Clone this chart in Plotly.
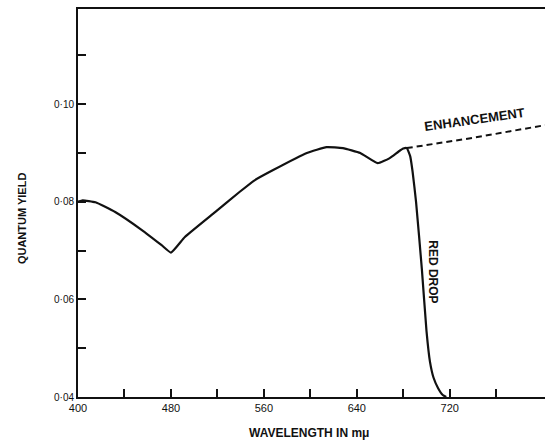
import plotly.graph_objects as go

# Main quantum-yield curve (wavelength in m-micron)
wavelength = [400, 404, 415, 432, 455, 472, 480, 492, 518, 539, 552, 568, 597, 614,
              628, 643, 658, 668, 676, 680, 683, 686, 688, 691, 696, 700, 703, 706,
              710, 714, 717]
quantum_yield = [0.0800, 0.0803, 0.0799, 0.0779, 0.0742, 0.0711, 0.0696, 0.0728,
                 0.0779, 0.0820, 0.0844, 0.0865, 0.0900, 0.0912, 0.0910, 0.0900,
                 0.0879, 0.0889, 0.0903, 0.0909, 0.0910, 0.0893, 0.0862, 0.0800,
                 0.0662, 0.0535, 0.0472, 0.0440, 0.0418, 0.0404, 0.0400]

# Enhancement (dashed) branch
enh_wavelength = [683, 740, 802]
enh_yield = [0.0910, 0.0931, 0.0957]

# Ticks
x_tickvals = [400, 440, 480, 520, 560, 600, 640, 680, 720, 760]
x_ticktext = ["400", "", "480", "", "560", "", "640", "", "720", ""]
y_tickvals = [0.04, 0.05, 0.06, 0.07, 0.08, 0.09, 0.10, 0.11]
y_ticktext = ["0·04", "", "0·06", "", "0·08", "", "0·10", ""]

FONT = "Liberation Sans, Arial, sans-serif"

fig = go.Figure()
fig.add_trace(go.Scatter(x=wavelength, y=quantum_yield, mode="lines",
                         line=dict(color="#111111", width=2.2, shape="spline", smoothing=0.4),
                         hoverinfo="skip", showlegend=False))
fig.add_trace(go.Scatter(x=enh_wavelength, y=enh_yield, mode="lines",
                         line=dict(color="#111111", width=2, dash="6px,4px"),
                         hoverinfo="skip", showlegend=False))

fig.update_layout(
    width=545, height=446,
    margin=dict(l=78, r=0, t=9, b=49),
    paper_bgcolor="white", plot_bgcolor="white",
    font=dict(family=FONT, color="#111111"),
    xaxis=dict(range=[400, 802], showgrid=False, zeroline=False,
               showline=True, linecolor="#111111", linewidth=2, mirror=True,
               ticks="inside", ticklen=8, tickwidth=1.5, tickcolor="#111111",
               tickmode="array", tickvals=x_tickvals, ticktext=x_ticktext,
               tickfont=dict(size=11, family=FONT, color="#111111")),
    yaxis=dict(range=[0.04, 0.1195], showgrid=False, zeroline=False,
               showline=True, linecolor="#111111", linewidth=2, mirror=False,
               ticks="inside", ticklen=8, tickwidth=1.5, tickcolor="#111111",
               tickmode="array", tickvals=y_tickvals, ticktext=y_ticktext,
               tickfont=dict(size=10, family=FONT, color="#111111")),
    annotations=[
        dict(text="<b>WAVELENGTH IN mμ</b>", xref="paper", yref="paper",
             x=0.495, y=-0.093, showarrow=False, xanchor="center", yanchor="middle",
             font=dict(size=12, family=FONT)),
        dict(text="<b>QUANTUM YIELD</b>", xref="paper", yref="paper",
             x=-0.12, y=0.461, showarrow=False, textangle=-90,
             xanchor="center", yanchor="middle", font=dict(size=11, family=FONT)),
        dict(text="<b>ENHANCEMENT</b>", xref="x", yref="y",
             x=741.5, y=0.0968, showarrow=False, textangle=-8,
             xanchor="center", yanchor="middle", font=dict(size=13, family=FONT)),
        dict(text="<b>RED DROP</b>", xref="x", yref="y",
             x=705.4, y=0.0656, showarrow=False, textangle=90,
             xanchor="center", yanchor="middle", font=dict(size=12, family=FONT)),
    ],
)

fig.write_html("out.html", config={"displayModeBar": False},
               post_script="document.body.style.margin='0';document.body.style.overflow='hidden';")
